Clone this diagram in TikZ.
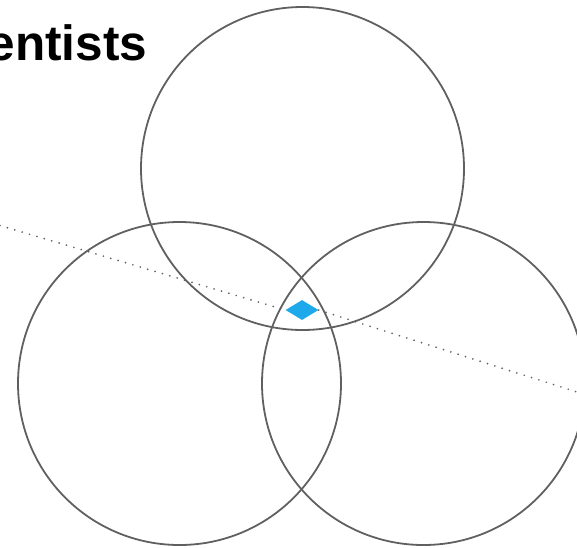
\documentclass[tikz,border=0pt]{standalone}
\usepackage{fontspec}
\setmainfont{Liberation Sans}
\usepackage{tikz}
\usetikzlibrary{shapes.geometric}

\definecolor{ringgray}{HTML}{606060}
\definecolor{gemblue}{HTML}{1EAAEA}

\begin{document}
\begin{tikzpicture}[x=1pt, y=-1pt, ring/.style={draw=ringgray, line width=1.8pt, circle, minimum size=323pt, inner sep=0pt}, gem/.style={diamond, fill=gemblue, minimum width=33pt, minimum height=20pt, inner sep=0pt}, axis/.style={draw=ringgray, line width=1.9pt, line cap=round, dash pattern=on 0pt off 7.7pt}]

                \useasboundingbox (0,0) rectangle (577,547);

                \node[anchor=base west, inner sep=0pt, font=\bfseries\fontsize{49.5}{50}\selectfont] (title) at (-12.5,60.5) {entists};

                \node[ring] (upper) at (302.5,168.5) {};
                \node[ring] (lower left)  at (179.5,383.5) {};
                \node[ring] (lower right) at (423.5,383.5) {};

                \coordinate (far west) at (0,225.5);
                \coordinate (far east) at (577,392);
                \node[gem] (gem) at (302,310) {};

                \draw[axis] (far west) -- (gem.west);
                \draw[axis] (gem.east) -- (far east);
            \end{tikzpicture}
\end{document}
